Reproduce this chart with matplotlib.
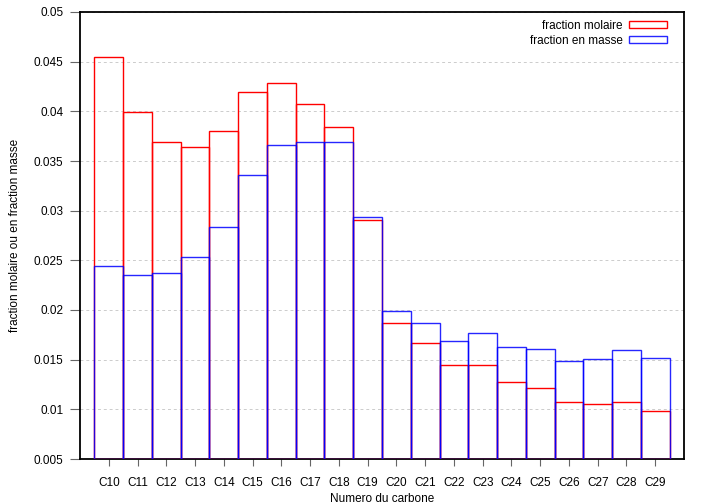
import matplotlib
matplotlib.use("Agg")
import matplotlib.pyplot as plt
import numpy as np

categories = ["C10", "C11", "C12", "C13", "C14", "C15", "C16", "C17", "C18", "C19",
              "C20", "C21", "C22", "C23", "C24", "C25", "C26", "C27", "C28", "C29"]
fraction_molaire = [0.0455, 0.0399, 0.0369, 0.0364, 0.0380, 0.0419, 0.0429, 0.0407, 0.0384, 0.0291,
                    0.0187, 0.0167, 0.0145, 0.0145, 0.0128, 0.0121, 0.0107, 0.0105, 0.0107, 0.0098]
fraction_masse = [0.0244, 0.0235, 0.0237, 0.0253, 0.0284, 0.0336, 0.0366, 0.0369, 0.0369, 0.0294,
                  0.0199, 0.0187, 0.0169, 0.0177, 0.0163, 0.0161, 0.0149, 0.0151, 0.0160, 0.0152]
yticks = [0.005, 0.01, 0.015, 0.02, 0.025, 0.03, 0.035, 0.04, 0.045, 0.05]
ytick_labels = ["0.005", "0.01", "0.015", "0.02", "0.025", "0.03", "0.035", "0.04", "0.045", "0.05"]

plt.rcParams['font.family'] = ['Liberation Sans', 'DejaVu Sans']
fig = plt.figure(figsize=(7.05, 5.04), dpi=100)
ax = fig.add_axes([80/705, 45/504, 604/705, 447/504])

x = np.arange(len(categories))
base = 0.005
ax.bar(x, np.array(fraction_molaire) - base, bottom=base, width=1.0, fill=False,
       edgecolor='#ff0000', linewidth=1.0, label='fraction molaire', zorder=3)
ax.bar(x, np.array(fraction_masse) - base, bottom=base, width=1.0, fill=False,
       edgecolor='#0000ff', linewidth=1.0, alpha=0.85, label='fraction en masse', zorder=4)

ax.set_xlim(-1, 20)
ax.set_ylim(0.005, 0.05)
ax.set_xticks(x)
ax.set_xticklabels(categories, fontsize=8.5)
ax.set_yticks(yticks)
ax.set_yticklabels(ytick_labels, fontsize=8.5)
ax.tick_params(axis='x', direction='out', length=5, width=0.8, color='#666666', pad=8)
ax.tick_params(axis='y', direction='out', length=7, width=0.8, color='#666666', pad=5)
ax.grid(axis='y', linestyle=(0, (3, 3)), color='#cccccc', linewidth=0.7, zorder=0)
for s in ax.spines.values():
    s.set_linewidth(1.3)
    s.set_color('black')

ax.set_xlabel("Numero du carbone", fontsize=8.5, labelpad=3)
ax.set_ylabel("fraction molaire ou en fraction masse", fontsize=8.5, labelpad=9)

leg = ax.legend(loc='upper right', frameon=False, fontsize=8.5, markerfirst=False,
                handlelength=3.2, handleheight=0.6, borderaxespad=0.25, labelspacing=0.25,
                handletextpad=0.6, bbox_to_anchor=(0.985, 1.0))
for t in leg.get_texts():
    t.set_ha('right')
leg._legend_box.align = "right"

fig.savefig("out.png", dpi=100)
